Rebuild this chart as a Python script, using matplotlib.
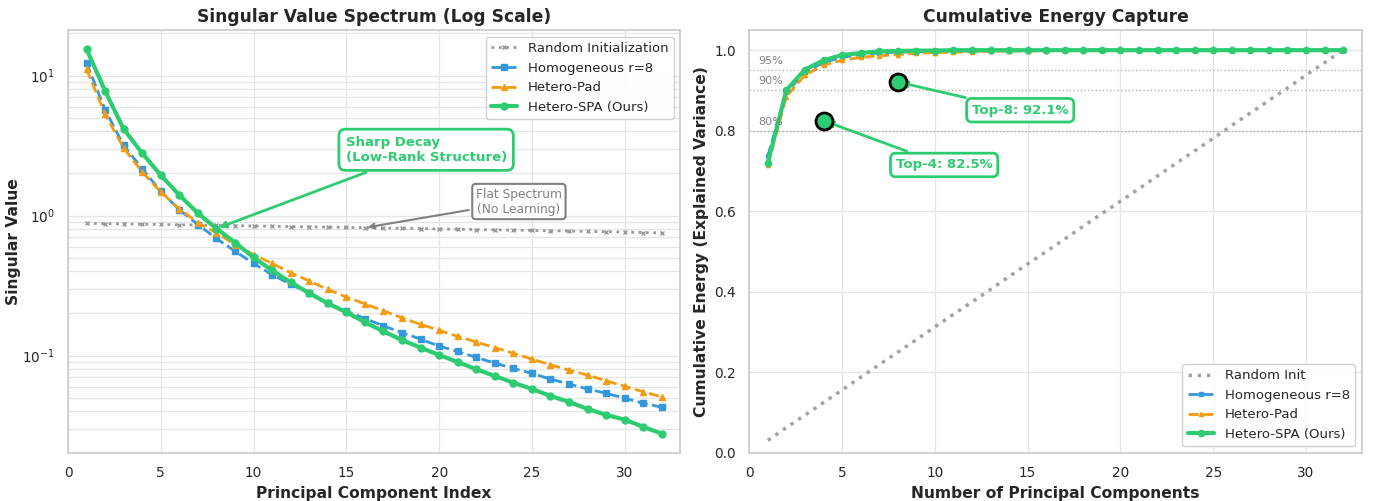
import matplotlib
matplotlib.use("Agg")
import matplotlib.pyplot as plt
import seaborn as sns
import numpy as np

sns.set_theme(style="whitegrid")
plt.rcParams['font.family'] = ['DejaVu Sans']
plt.rcParams['xtick.labelsize'] = 9.8
plt.rcParams['ytick.labelsize'] = 9.8

components = list(range(1, 33))

random_sv = [0.88, 0.876, 0.872, 0.868, 0.864, 0.86, 0.855, 0.851, 0.847, 0.843,
             0.839, 0.835, 0.831, 0.827, 0.823, 0.819, 0.815, 0.811, 0.807, 0.803,
             0.799, 0.795, 0.791, 0.787, 0.783, 0.779, 0.775, 0.771, 0.767, 0.762,
             0.757, 0.752]
homog_sv = [12.3, 5.68, 3.17, 2.16, 1.49, 1.10, 0.863, 0.686, 0.557, 0.455,
            0.378, 0.323, 0.279, 0.236, 0.208, 0.184, 0.163, 0.146, 0.131, 0.117,
            0.107, 0.097, 0.0885, 0.081, 0.0747, 0.068, 0.0627, 0.0578, 0.0538, 0.0496,
            0.0457, 0.0428]
pad_sv = [11.1, 5.3, 3.03, 2.05, 1.47, 1.12, 0.887, 0.753, 0.62, 0.527,
          0.455, 0.391, 0.341, 0.297, 0.262, 0.234, 0.209, 0.186, 0.167, 0.152,
          0.137, 0.125, 0.114, 0.104, 0.0944, 0.086, 0.0788, 0.0726, 0.0662, 0.0604,
          0.0552, 0.0507]
spa_sv = [15.4, 7.76, 4.14, 2.79, 1.94, 1.40, 1.04, 0.808, 0.642, 0.502,
          0.406, 0.334, 0.279, 0.236, 0.204, 0.173, 0.149, 0.129, 0.114, 0.101,
          0.090, 0.080, 0.0715, 0.064, 0.0578, 0.0515, 0.0467, 0.0416, 0.0377, 0.0349,
          0.031, 0.0277]

random_cum = [0.031, 0.063, 0.094, 0.125, 0.156, 0.188, 0.219, 0.25, 0.281, 0.313,
              0.344, 0.375, 0.406, 0.438, 0.469, 0.5, 0.531, 0.563, 0.594, 0.625,
              0.656, 0.688, 0.719, 0.75, 0.781, 0.813, 0.844, 0.875, 0.906, 0.938,
              0.969, 1.0]
homog_cum = [0.738, 0.895, 0.945, 0.97, 0.982, 0.989, 0.993, 0.995, 0.996, 0.997,
             0.998, 0.998, 0.999, 0.999, 0.999, 0.999, 1.0, 1.0, 1.0, 1.0,
             1.0, 1.0, 1.0, 1.0, 1.0, 1.0, 1.0, 1.0, 1.0, 1.0, 1.0, 1.0]
pad_cum = [0.715, 0.885, 0.938, 0.963, 0.975, 0.982, 0.986, 0.989, 0.992, 0.994,
           0.995, 0.996, 0.997, 0.998, 0.998, 0.999, 0.999, 0.999, 1.0, 1.0,
           1.0, 1.0, 1.0, 1.0, 1.0, 1.0, 1.0, 1.0, 1.0, 1.0, 1.0, 1.0]
spa_cum = [0.721, 0.901, 0.952, 0.975, 0.988, 0.993, 0.997, 0.998, 0.999, 0.999,
           1.0, 1.0, 1.0, 1.0, 1.0, 1.0, 1.0, 1.0, 1.0, 1.0,
           1.0, 1.0, 1.0, 1.0, 1.0, 1.0, 1.0, 1.0, 1.0, 1.0, 1.0, 1.0]

thresholds = [0.80, 0.90, 0.95]
threshold_labels = ["80%", "90%", "95%"]
highlight_k = [4, 8]
highlight_vals = [0.825, 0.921]
highlight_labels = ["Top-4: 82.5%", "Top-8: 92.1%"]
highlight_text_pos = [(10.5, 0.715), (14.6, 0.851)]

GRAY = '#999999'
BLUE = '#3498db'
ORANGE = '#f39c12'
GREEN = '#2ecc71'

fig, (ax1, ax2) = plt.subplots(1, 2, figsize=(13.74, 5.01), dpi=100)
fig.subplots_adjust(left=0.0495, right=0.991, top=0.94, bottom=0.096, wspace=0.1126)

# Left: singular values
ax1.plot(components, random_sv, linestyle=':', color=GRAY, marker='x', markersize=3,
         linewidth=2, label='Random Initialization')
ax1.plot(components, homog_sv, linestyle='--', color=BLUE, marker='s', markersize=4,
         linewidth=2, label='Homogeneous r=8')
ax1.plot(components, pad_sv, linestyle='--', color=ORANGE, marker='^', markersize=4.5,
         linewidth=2, label='Hetero-Pad')
ax1.plot(components, spa_sv, linestyle='-', color=GREEN, marker='o', markersize=5,
         linewidth=3, label='Hetero-SPA (Ours)')
ax1.set_yscale('log')
ax1.set_xlim(0, 33)
ax1.grid(True, which='both', color='#e5e5e5', linewidth=0.9)
ax1.set_title('Singular Value Spectrum (Log Scale)', fontsize=12.3, fontweight='bold')
ax1.set_xlabel('Principal Component Index', fontsize=11.2, fontweight='bold')
ax1.set_ylabel('Singular Value', fontsize=11.2, fontweight='bold', labelpad=1)
ax1.legend(loc='upper right', fontsize=9.5, framealpha=0.9)

ax1.annotate('Sharp Decay\n(Low-Rank Structure)', xy=(8, spa_sv[7]), xytext=(19.3, 2.95),
             fontsize=9.5, fontweight='bold', color=GREEN, ha='center', va='center',
             multialignment='left',
             bbox=dict(boxstyle='round,pad=0.5', facecolor='white', edgecolor=GREEN, linewidth=2),
             arrowprops=dict(arrowstyle='->', color=GREEN, lw=2))
ax1.annotate('Flat Spectrum\n(No Learning)', xy=(16, random_sv[15]), xytext=(24.3, 1.26),
             fontsize=8.8, color='gray', ha='center', va='center',
             bbox=dict(boxstyle='round,pad=0.3', facecolor='white', edgecolor='gray', linewidth=1.5),
             arrowprops=dict(arrowstyle='->', color='gray', lw=1.5))

# Right: cumulative energy
ax2.plot(components, random_cum, linestyle=':', color=GRAY, linewidth=2.5, alpha=0.9,
         label='Random Init')
ax2.plot(components, homog_cum, linestyle='--', color=BLUE, marker='s', markersize=3,
         linewidth=2, label='Homogeneous r=8')
ax2.plot(components, pad_cum, linestyle='--', color=ORANGE, marker='^', markersize=3,
         linewidth=2, label='Hetero-Pad')
ax2.plot(components, spa_cum, linestyle='-', color=GREEN, marker='o', markersize=4.5,
         linewidth=3, label='Hetero-SPA (Ours)')
for t, lab in zip(thresholds, threshold_labels):
    ax2.axhline(t, color='gray', linestyle=':', linewidth=1, alpha=0.6)
    ax2.text(0.5, t + 0.01, lab, fontsize=8, color='gray', va='bottom', ha='left')
for k, v, lab, pos in zip(highlight_k, highlight_vals, highlight_labels, highlight_text_pos):
    ax2.scatter([k], [v], s=150, color=GREEN, edgecolor='black', linewidth=2, zorder=5)
    ax2.annotate(lab, xy=(k, v), xytext=pos, fontsize=9.5, fontweight='bold', color=GREEN,
                 ha='center', va='center',
                 bbox=dict(boxstyle='round,pad=0.4', facecolor='white', edgecolor=GREEN, linewidth=2),
                 arrowprops=dict(arrowstyle='->', color=GREEN, lw=2))
ax2.set_xlim(0, 33)
ax2.set_ylim(0, 1.05)
ax2.grid(True, color='#e5e5e5', linewidth=0.9)
ax2.set_title('Cumulative Energy Capture', fontsize=12.3, fontweight='bold')
ax2.set_xlabel('Number of Principal Components', fontsize=11.2, fontweight='bold')
ax2.set_ylabel('Cumulative Energy (Explained Variance)', fontsize=11.2, fontweight='bold')
ax2.legend(loc='lower right', fontsize=9.5, framealpha=0.9)

for ax in (ax1, ax2):
    for s in ax.spines.values():
        s.set_edgecolor('#cccccc')

fig.savefig('out.png', dpi=100)
